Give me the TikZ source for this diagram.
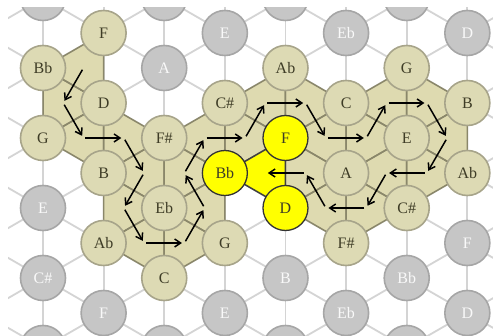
\documentclass[tikz,border=0pt]{standalone}
\usepackage{fontspec}
\setmainfont{Liberation Serif}
\usepackage{xcolor}
\usepackage{tikz}
\usetikzlibrary{arrows.meta,calc}
\definecolor{chordbg}{HTML}{DEDAB0}
\definecolor{chordline}{HTML}{8A876A}
\definecolor{pitchbg}{HTML}{DDDAB4}
\definecolor{pitchline}{HTML}{A7A48A}
\definecolor{pitchtext}{HTML}{3E3C26}
\definecolor{faintbg}{HTML}{C6C6C6}
\definecolor{faintline}{HTML}{A6A6A6}
\definecolor{gridline}{HTML}{D4D4D4}
\definecolor{hilite}{HTML}{FFFF00}

\begin{document}
\begin{tikzpicture}[
  x=1pt, y=-1pt,
  lattice/.style={draw=gridline, line width=1.8pt},
  chord/.style  ={fill=chordbg},
  chordedge/.style={draw=chordline, line width=1.5pt, line join=round},
  pitch/.style  ={circle, draw=pitchline, line width=1.6pt, fill=pitchbg, minimum size=45pt, inner sep=0pt, text=pitchtext, font=\fontsize{16}{16}\selectfont},
  faint/.style  ={pitch, draw=faintline, fill=faintbg, text=white!95!gray},
  chosen/.style ={pitch, draw=black!80, line width=1.3pt, fill=hilite, text=pitchtext},
  move/.style   ={-{Straight Barb[length=6pt,width=8pt]}, line width=1.5pt, black, shorten <=2pt, shorten >=2.5pt},
]
  \useasboundingbox (0,0) rectangle (493,336);
  \fill[white] (0,0) rectangle (493,336);
  \clip (8,8) rectangle (493,336);

  % lattice points
  \foreach \c in {0,...,9}
    \foreach \r in {0,...,13}
      \coordinate (g\c-\r) at ({43+60.62*(\c-1)}, {-2+35*(\c-1)+70*(\r-6)});

  % background lattice
  \foreach \c [evaluate=\c as \cn using int(\c+1)] in {0,...,8} {
    \foreach \r [evaluate=\r as \rn using int(\r+1), evaluate=\r as \rp using int(\r-1)] in {1,...,12} {
      \draw[lattice] (g\c-\r) -- (g\c-\rn);
      \draw[lattice] (g\c-\r) -- (g\cn-\r);
      \draw[lattice] (g\c-\r) -- (g\cn-\rp);
    }
  }

  % chords on the path
  \foreach \a/\b/\c [count=\i] in {1-7/2-6/2-7, 1-7/2-7/1-8, 1-8/2-7/2-8, 2-7/3-7/2-8,
      2-8/3-7/3-8, 2-8/3-8/2-9, 2-9/3-8/3-9, 3-8/3-9/4-8, 3-8/4-8/4-7, 3-8/4-7/3-7,
      3-7/4-7/4-6, 4-6/5-6/4-7, 4-6/5-5/5-6, 5-5/6-5/5-6, 5-6/6-5/6-6, 6-5/7-5/6-6,
      6-5/7-4/7-5, 7-4/8-4/7-5, 7-5/8-4/8-5, 7-5/8-5/7-6, 6-6/7-5/7-6, 6-6/7-6/6-7,
      6-6/6-7/5-7, 6-6/5-7/5-6} {
    \fill[chord] (g\a) -- (g\b) -- (g\c) -- cycle;
    \coordinate (t\i) at (barycentric cs:g\a=1,g\b=1,g\c=1);
  }
  \foreach \a/\b/\c in {1-7/2-6/2-7, 1-7/2-7/1-8, 1-8/2-7/2-8, 2-7/3-7/2-8,
      2-8/3-7/3-8, 2-8/3-8/2-9, 2-9/3-8/3-9, 3-8/3-9/4-8, 3-8/4-8/4-7, 3-8/4-7/3-7,
      3-7/4-7/4-6, 4-6/5-6/4-7, 4-6/5-5/5-6, 5-5/6-5/5-6, 5-6/6-5/6-6, 6-5/7-5/6-6,
      6-5/7-4/7-5, 7-4/8-4/7-5, 7-5/8-4/8-5, 7-5/8-5/7-6, 6-6/7-5/7-6, 6-6/7-6/6-7,
      6-6/6-7/5-7, 6-6/5-7/5-6}
    \draw[chordedge] (g\a) -- (g\b) -- (g\c) -- cycle;

  % the Bb chord
  \fill[hilite] (g5-6) -- (g5-7) -- (g4-7) -- cycle;
  \draw[chordedge, draw=black!75] (g5-6) -- (g5-7) -- (g4-7) -- cycle;
  \coordinate (t25) at (barycentric cs:g5-6=1,g5-7=1,g4-7=1);

  % notes
  \node[faint]  (n1-6)  at (g1-6)  {};
  \node[pitch]  (n1-7)  at (g1-7)  {Bb};
  \node[pitch]  (n1-8)  at (g1-8)  {G};
  \node[faint]  (n1-9)  at (g1-9)  {E};
  \node[faint]  (n1-10) at (g1-10) {C\#};
  \node[faint]  (n1-11) at (g1-11) {};

  \node[pitch]  (n2-6)  at (g2-6)  {F};
  \node[pitch]  (n2-7)  at (g2-7)  {D};
  \node[pitch]  (n2-8)  at (g2-8)  {B};
  \node[pitch]  (n2-9)  at (g2-9)  {Ab};
  \node[faint]  (n2-10) at (g2-10) {F};

  \node[faint]  (n3-5)  at (g3-5)  {};
  \node[faint]  (n3-6)  at (g3-6)  {A};
  \node[pitch]  (n3-7)  at (g3-7)  {F\#};
  \node[pitch]  (n3-8)  at (g3-8)  {Eb};
  \node[pitch]  (n3-9)  at (g3-9)  {C};
  \node[faint]  (n3-10) at (g3-10) {};

  \node[faint]  (n4-5)  at (g4-5)  {E};
  \node[pitch]  (n4-6)  at (g4-6)  {C\#};
  \node[chosen] (n4-7)  at (g4-7)  {Bb};
  \node[pitch]  (n4-8)  at (g4-8)  {G};
  \node[faint]  (n4-9)  at (g4-9)  {E};

  \node[faint]  (n5-4)  at (g5-4)  {};
  \node[pitch]  (n5-5)  at (g5-5)  {Ab};
  \node[chosen] (n5-6)  at (g5-6)  {F};
  \node[chosen] (n5-7)  at (g5-7)  {D};
  \node[faint]  (n5-8)  at (g5-8)  {B};
  \node[faint]  (n5-9)  at (g5-9)  {};

  \node[faint]  (n6-4)  at (g6-4)  {Eb};
  \node[pitch]  (n6-5)  at (g6-5)  {C};
  \node[pitch]  (n6-6)  at (g6-6)  {A};
  \node[pitch]  (n6-7)  at (g6-7)  {F\#};
  \node[faint]  (n6-8)  at (g6-8)  {Eb};

  \node[faint]  (n7-3)  at (g7-3)  {};
  \node[pitch]  (n7-4)  at (g7-4)  {G};
  \node[pitch]  (n7-5)  at (g7-5)  {E};
  \node[pitch]  (n7-6)  at (g7-6)  {C\#};
  \node[faint]  (n7-7)  at (g7-7)  {Bb};
  \node[faint]  (n7-8)  at (g7-8)  {};

  \node[faint]  (n8-3)  at (g8-3)  {D};
  \node[pitch]  (n8-4)  at (g8-4)  {B};
  \node[pitch]  (n8-5)  at (g8-5)  {Ab};
  \node[faint]  (n8-6)  at (g8-6)  {F};
  \node[faint]  (n8-7)  at (g8-7)  {D};

  % path through the chords
  \foreach \i [evaluate=\i as \j using int(\i+1)] in {1,...,24}
    \draw[move] (t\i) -- (t\j);
\end{tikzpicture}
\end{document}
